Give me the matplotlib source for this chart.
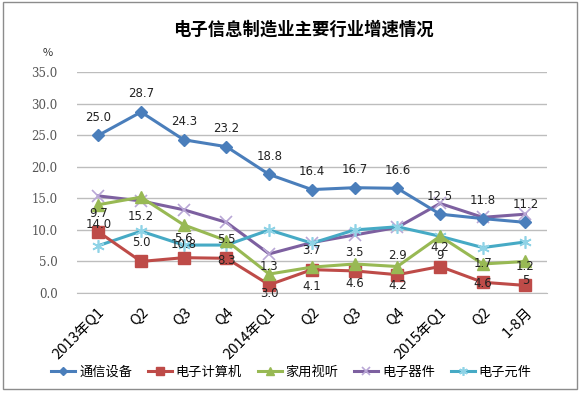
import matplotlib
matplotlib.use("Agg")
import matplotlib.pyplot as plt
from matplotlib.patches import Rectangle

plt.rcParams['font.family'] = ['Noto Sans CJK SC', 'DejaVu Sans']

categories = ["2013年Q1", "Q2", "Q3", "Q4", "2014年Q1", "Q2", "Q3", "Q4", "2015年Q1", "Q2", "1-8月"]

tongxin = [25.0, 28.7, 24.3, 23.2, 18.8, 16.4, 16.7, 16.6, 12.5, 11.8, 11.2]
jisuanji = [9.7, 5.0, 5.6, 5.5, 1.3, 3.7, 3.5, 2.9, 4.2, 1.7, 1.2]
shiting = [14.0, 15.2, 10.8, 8.3, 3.0, 4.1, 4.6, 4.2, 9, 4.6, 5]
qijian = [15.4, 14.6, 13.2, 11.2, 6.2, 8.0, 9.2, 10.4, 14.2, 12.0, 12.5]
yuanjian = [7.5, 9.8, 7.6, 7.6, 10.0, 7.9, 10.0, 10.5, 9.0, 7.2, 8.1]

yticks = [0, 5, 10, 15, 20, 25, 30, 35]

x = list(range(len(categories)))

fig = plt.figure(figsize=(5.83, 3.93), dpi=100)
ax = fig.add_axes([0.132, 0.2545, 0.806, 0.5615])

ax.plot(x, tongxin, color='#4A7EBB', lw=2.2, marker='D', ms=6, mec='#4A7EBB', label='通信设备', zorder=5)
ax.plot(x, jisuanji, color='#BE4B48', lw=2.2, marker='s', ms=8, mec='#BE4B48', label='电子计算机', zorder=4)
ax.plot(x, shiting, color='#98B954', lw=2.2, marker='^', ms=8, mec='#98B954', label='家用视听', zorder=4)
ax.plot(x, qijian, color='#7D60A0', lw=2.2, marker='x', ms=8, mec='#B9A7D6', mew=1.2, label='电子器件', zorder=3)
ax.plot(x, yuanjian, color='#46AAC5', lw=2.2, marker=(6, 2, 0), ms=9, mec='#8FD3E6', mew=1.2, label='电子元件', zorder=3)

lab_kw = dict(textcoords='offset points', ha='center', va='center', fontsize=8.5,
              color='#222222', family=['DejaVu Sans'], zorder=6)
for i in x:
    ax.annotate(f"{tongxin[i]:.1f}", (i, tongxin[i]), xytext=(0, 13), **lab_kw)
    ax.annotate(f"{jisuanji[i]:g}" if i >= 8 else f"{jisuanji[i]:.1f}", (i, jisuanji[i]), xytext=(0, 13.5), **lab_kw)
    ax.annotate(f"{shiting[i]:g}" if i >= 8 else f"{shiting[i]:.1f}", (i, shiting[i]), xytext=(0, -14), **lab_kw)

ax.set_xlim(-0.5, len(categories) - 0.5)
ax.set_ylim(0, 35)
ax.set_yticks(yticks)
ax.set_yticklabels([f"{v:.1f}" for v in yticks], family=['DejaVu Serif'], fontsize=8.5, color='#555555')
ax.yaxis.grid(True, color='#BDBDBD', lw=1)
ax.set_axisbelow(True)
ax.tick_params(axis='y', length=0, pad=14)
ax.set_xticks(x)
ax.set_xticklabels(categories, rotation=45, ha='right', va='top', rotation_mode='anchor', fontsize=10.5)
ax.tick_params(axis='x', length=0, pad=9)
for s in ['top', 'right', 'left']:
    ax.spines[s].set_visible(False)
ax.spines['bottom'].set_color('#BDBDBD')

fig.text(48 / 583, 1 - 53 / 393, '%', fontsize=8, color='#333333', ha='center', va='center')
fig.suptitle('电子信息制造业主要行业增速情况', x=0.52, y=0.925, va='center', fontsize=12.5, fontweight='bold')

fig.legend(loc='center', bbox_to_anchor=(0.5, 1 - 372 / 393), ncol=5, frameon=False, fontsize=9.5,
           handlelength=1.8, columnspacing=1.2, handletextpad=0.3, markerscale=0.7)

fig.patches.append(Rectangle((0.006, 0.01), 0.983, 0.985, transform=fig.transFigure,
                             fill=False, edgecolor='#8C8C8C', lw=1))

fig.savefig("out.png", dpi=100)
